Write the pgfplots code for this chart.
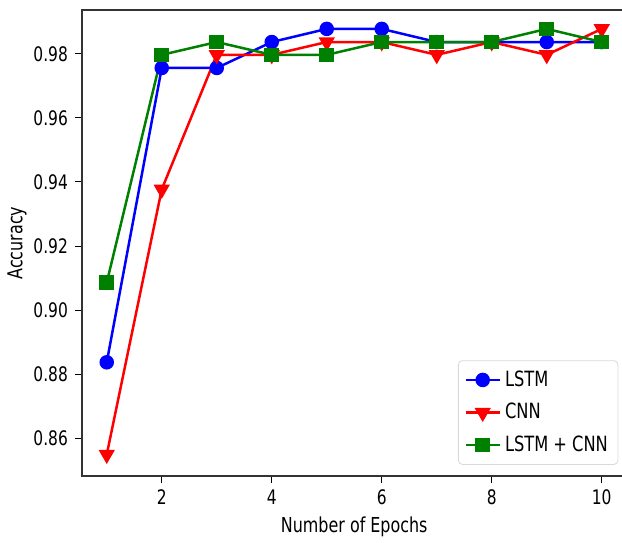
\documentclass[border=0pt]{standalone}
\usepackage{fontspec}
\setmainfont{DejaVu Sans Condensed}[FakeStretch=0.86]
\usepackage{pgfplots}
\pgfplotsset{compat=1.18}
\begin{document}
\begin{tikzpicture}
\begin{axis}[
  name=main,
  scale only axis,
  width=272.25pt, height=233pt,
  xmin=0.55, xmax=10.45,
  ymin=0.8482, ymax=0.9937,
  xtick={2,4,6,8,10},
  ytick={0.86,0.88,0.90,0.92,0.94,0.96,0.98},
  yticklabel style={/pgf/number format/.cd,fixed,fixed zerofill,precision=2},
  /pgf/number format/assume math mode=true,
  tick align=outside,
  tick pos=left,
  major tick length=3.5pt,
  tick style={black, line width=0.5pt},
  axis line style={line width=0.7pt, black!80},
  tick label style={font=\fontsize{10}{12}\selectfont},
  label style={font=\fontsize{10.3}{12}\selectfont},
  xlabel={Number of Epochs},
  ylabel={Accuracy},
  xlabel style={yshift=1pt},
  ylabel style={yshift=-3.5pt},
  legend style={at={(0.985,0.024)}, anchor=south east, font=\fontsize{10.5}{12}\selectfont, draw=black!15, rounded corners=2pt, row sep=3pt, inner sep=3pt},
  legend cell align=left,
  every axis plot/.append style={line width=1.25pt},
]
\addplot[blue, mark=*, mark size=3pt] coordinates {
(1,0.8837) (2,0.9756) (3,0.9756) (4,0.9837) (5,0.9878) (6,0.9878) (7,0.9837) (8,0.9837) (9,0.9837) (10,0.9837)};
\addlegendentry{LSTM}
\addplot[red, mark=triangle*, mark size=3.5pt, every mark/.append style={rotate=180}] coordinates {
(1,0.8549) (2,0.9377) (3,0.9797) (4,0.9797) (5,0.9837) (6,0.9837) (7,0.9797) (8,0.9837) (9,0.9797) (10,0.9878)};
\addlegendentry{CNN}
\addplot[green!50!black, mark=square*, mark size=3pt] coordinates {
(1,0.9086) (2,0.9797) (3,0.9837) (4,0.9797) (5,0.9797) (6,0.9837) (7,0.9837) (8,0.9837) (9,0.9878) (10,0.9837)};
\addlegendentry{LSTM + CNN}
\end{axis}
\pgfresetboundingbox
\path (main.south west) ++(-41pt,-33pt) rectangle ++(311pt,271pt);
\end{tikzpicture}
\end{document}
